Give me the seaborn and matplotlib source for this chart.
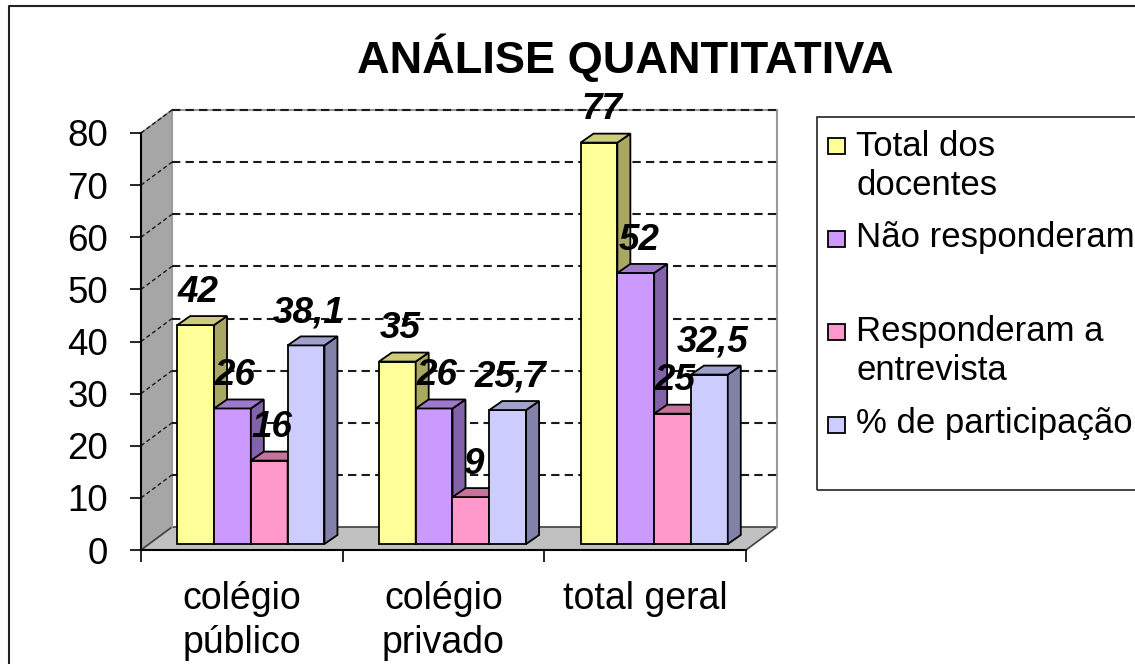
import matplotlib
matplotlib.use("Agg")
import numpy as np
import pandas as pd
import seaborn as sns
import matplotlib.pyplot as plt
from matplotlib.patches import Polygon, Rectangle
from matplotlib.transforms import ScaledTranslation
from matplotlib.lines import Line2D

# ---------------- data ----------------
categories = ["colégio\npúblico", "colégio\nprivado", "total geral"]
series_names = ["Total dos\ndocentes", "Não responderam",
                "Responderam a\nentrevista", "% de participação"]
total_docentes = [42, 35, 77]
nao_responderam = [26, 26, 52]
responderam = [16, 9, 25]
participacao = [38.1, 25.7, 32.5]
value_ticks = [0, 10, 20, 30, 40, 50, 60, 70, 80]
title = "ANÁLISE QUANTITATIVA"

# ---------------- style ----------------
front_colors = ["#FFFF99", "#CC99FF", "#FF99CC", "#CCCCFF"]
top_colors = ["#CCCC7A", "#9F7ACC", "#C6739C", "#A0A0CC"]
side_colors = ["#A8A862", "#8262A8", "#A86285", "#8282A8"]

sns.set_style("white")
plt.rcParams["font.family"] = ["Liberation Sans", "DejaVu Sans"]
plt.rcParams["text.color"] = "black"
plt.rcParams["xtick.color"] = "black"
plt.rcParams["ytick.color"] = "black"
plt.rcParams["axes.labelcolor"] = "black"

W, H = 1135, 664
fig = plt.figure(figsize=(W / 100, H / 100), dpi=100)
fig.patch.set_facecolor("white")


def fx(px):
    return px / W


def fy(py):
    return (H - py) / H


# front plane of the plot: x 141..746, y 550 (0) .. 133 (80)
ax = fig.add_axes([fx(141), fy(550), fx(746) - fx(141), fy(133) - fy(550)])
ax.set_facecolor("none")

all_values = [total_docentes, nao_responderam, responderam, participacao]
df = pd.DataFrame({
    "categoria": np.tile(categories, len(series_names)),
    "serie": np.repeat(series_names, len(categories)),
    "valor": np.concatenate([np.asarray(v, dtype=float) for v in all_values]),
})

sns.barplot(data=df, x="categoria", y="valor", hue="serie",
            order=categories, hue_order=series_names,
            palette=front_colors, saturation=1, width=0.73,
            edgecolor="black", linewidth=1.3, errorbar=None,
            legend=False, ax=ax)

ax.set_xlim(-0.5, 2.5)
ax.set_ylim(0, 80)
ax.set_xlabel("")
ax.set_ylabel("")

# pixel -> data conversions
p0 = ax.transData.transform((0, 0))
p1 = ax.transData.transform((1, 1))
ppx = p1[0] - p0[0]
ppy = p1[1] - p0[1]

# back-wall offset (31 px right, 23 px up)
dxb, dyb = 31 / ppx, 23 / ppy
x0, x1 = -0.5, 2.5

# left wall
ax.add_patch(Polygon([(x0, 0), (x0, 80), (x0 + dxb, 80 + dyb), (x0 + dxb, dyb)],
                     closed=True, facecolor="#A6A6A6", edgecolor="#808080",
                     lw=1.0, zorder=0.5, clip_on=False))
# floor
ax.add_patch(Polygon([(x0, 0), (x1, 0), (x1 + dxb, dyb), (x0 + dxb, dyb)],
                     closed=True, facecolor="#C0C0C0", edgecolor="#404040",
                     lw=1.2, zorder=0.6, clip_on=False))
# back wall outline
ax.plot([x0 + dxb, x0 + dxb, x1 + dxb, x1 + dxb], [dyb, 80 + dyb, 80 + dyb, dyb],
        color="#9A9A9A", lw=1.5, zorder=0.7, clip_on=False)

# gridlines (back wall + left wall diagonals)
for v in value_ticks[1:]:
    ax.plot([x0 + dxb, x1 + dxb], [v + dyb, v + dyb], color="#1A1A1A",
            lw=1.5, ls=(0, (4, 2.5)), zorder=1, clip_on=False)
    ax.plot([x0, x0 + dxb], [v, v + dyb], color="#1A1A1A",
            lw=1.0, ls=(0, (3, 2)), zorder=1, clip_on=False)

# 3D bars: shift the fronts and add sides/tops
bar_off = ScaledTranslation(9 / 100, 6 / 100, fig.dpi_scale_trans)
tr = ax.transData + bar_off
ddx, ddy = 13 / ppx, 9 / ppy
for hi, cont in enumerate(ax.containers):
    z = 3 + hi * 0.1
    for p, v in zip(cont, all_values[hi]):
        p.set_transform(tr)
        p.set_zorder(z)
        p.set_clip_on(False)
        x, w, h = p.get_x(), p.get_width(), p.get_height()
        side = Polygon([(x + w, 0), (x + w, h), (x + w + ddx, h + ddy), (x + w + ddx, ddy)],
                       closed=True, facecolor=side_colors[hi], edgecolor="black",
                       lw=1.3, zorder=z + 0.05, clip_on=False, transform=tr)
        top = Polygon([(x, h), (x + w, h), (x + w + ddx, h + ddy), (x + ddx, h + ddy)],
                      closed=True, facecolor=top_colors[hi], edgecolor="black",
                      lw=1.3, zorder=z + 0.05, clip_on=False, transform=tr)
        ax.add_patch(side)
        ax.add_patch(top)
        label = f"{v:g}".replace(".", ",")
        ax.annotate(label, xy=(x + w / 2, v), xytext=(8.6, 28),
                    textcoords="offset points", ha="center", va="center",
                    fontsize=26.5, fontweight="bold", fontstyle="italic",
                    color="black", zorder=10, annotation_clip=False)

# spines / ticks
for s in ["top", "right"]:
    ax.spines[s].set_visible(False)
for s in ["left", "bottom"]:
    ax.spines[s].set_color("black")
    ax.spines[s].set_linewidth(1.5)
    ax.spines[s].set_zorder(2)

ax.set_yticks(value_ticks)
ax.set_yticklabels([str(v) for v in value_ticks])
ax.tick_params(axis="y", which="major", left=True, direction="out",
               length=7.9, width=1.2, pad=15.8, labelsize=26.5,
               color="black", labelcolor="black")
ax.set_xticks([0, 1, 2])
ax.set_xticklabels(categories)
ax.set_xticks([-0.5, 0.5, 1.5, 2.5], minor=True)
ax.tick_params(axis="x", which="major", bottom=True, length=0, pad=22.5,
               labelsize=27, labelcolor="black")
ax.tick_params(axis="x", which="minor", bottom=True, direction="out",
               length=8.6, width=1.2, color="black")
for t in ax.get_xticklabels():
    t.set_linespacing(1.27)

# title
fig.text(fx(625), fy(73), title, ha="center", va="baseline",
         fontsize=32.5, fontweight="bold", color="black")

# legend (Excel-like box)
fig.add_artist(Rectangle((fx(817), fy(490)), fx(1145) - fx(817), fy(117) - fy(490),
                         transform=fig.transFigure, fill=False,
                         edgecolor="#222222", lw=1.2))
marker_bottoms = [154, 247, 340, 433]
text_last_baselines = [195, 247, 380, 433]
for i, name in enumerate(series_names):
    mb = marker_bottoms[i]
    fig.add_artist(Rectangle((fx(828), fy(mb)), fx(845) - fx(828),
                             fy(mb - 16) - fy(mb),
                             transform=fig.transFigure,
                             facecolor=front_colors[i], edgecolor="black", lw=1.3))
    fig.text(fx(856), fy(text_last_baselines[i]), name, ha="left", va="baseline",
             fontsize=25, linespacing=1.22, color="black")

# outer chart-area border
fig.add_artist(Line2D([fx(9), fx(9), 1.01], [-0.01, fy(6), fy(6)],
                      transform=fig.transFigure, color="#222222", lw=1.5))

fig.savefig("out.png", dpi=100)
